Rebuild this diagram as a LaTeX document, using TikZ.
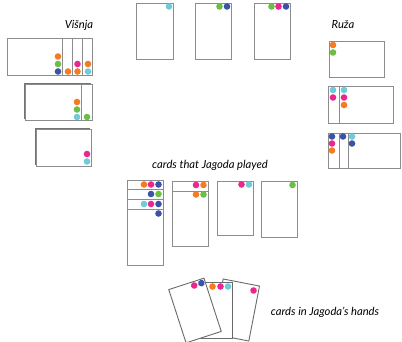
\documentclass[tikz,border=0pt]{standalone}
\usepackage{fontspec}
\setmainfont{Lato}
\definecolor{dorange}{HTML}{F47B20}
\definecolor{dgreen}{HTML}{6CBE45}
\definecolor{dblue}{HTML}{3A53A4}
\definecolor{dpink}{HTML}{EC268F}
\definecolor{dcyan}{HTML}{6DCCDA}
\definecolor{cardline}{HTML}{8C8C8C}
\definecolor{handline}{HTML}{6A6A6A}
\newcommand\mydot[3]{\fill[#1] (#2,#3) circle (3.3);}
\begin{document}
\begin{tikzpicture}[x=1pt,y=-1pt,
  card/.style={draw=cardline,line width=0.9pt,fill=white},
  divline/.style={draw=cardline,line width=0.9pt},
  hcard/.style={draw=handline,line width=0.9pt,fill=white},
  shade/.style={fill=black!85},
  lshade/.style={fill=black!55},
  lbl/.style={font=\itshape\fontsize{11.2}{13}\selectfont,inner sep=0pt}]
\useasboundingbox (0,0) rectangle (402,341);

% ---- labels
\node[lbl] (vis) at (79,25) {Višnja};
\node[lbl] (ruz) at (343,25) {Ruža};
\node[lbl] (pl) at (210,165) {cards that Jagoda played};
\node[lbl] (hd) at (325,312) {cards in Jagoda’s hands};

% ---- top cards
\fill[shade] (137.3,4.3) rectangle (174.3,60.3);
\draw[card] (136,3) rectangle (173,59);
\mydot{dcyan}{169}{6.5}
\fill[shade] (196.3,4.3) rectangle (232.3,60.3);
\draw[card] (195,3) rectangle (231,59);
\mydot{dgreen}{219.5}{6.5}
\mydot{dblue}{227}{6.5}
\fill[shade] (255.3,4.3) rectangle (291.3,60.3);
\draw[card] (254,3) rectangle (290,59);
\mydot{dgreen}{271.5}{6.5}
\mydot{dpink}{278.5}{6.5}
\mydot{dblue}{286}{6.5}

% ---- Visnja
\draw[card] (7,38) rectangle (92,75.5);
\draw[divline] (62,38) -- (62,75.5) (72,38) -- (72,75.5) (82,38) -- (82,75.5);
\mydot{dorange}{58}{56.5}
\mydot{dgreen}{58}{64}
\mydot{dblue}{58}{71.5}
\mydot{dorange}{68}{71.5}
\mydot{dpink}{77.5}{64}
\mydot{dorange}{77.5}{71.5}
\mydot{dorange}{88}{64}
\mydot{dcyan}{88}{71.5}

\fill[lshade] (24.3,83.3) rectangle (91,119);
\draw[card] (25,84) rectangle (92,120);
\draw[divline] (81,84) -- (81,120);
\mydot{dorange}{77}{102}
\mydot{dgreen}{77}{109.5}
\mydot{dcyan}{77}{117}
\mydot{dgreen}{87}{117}

\fill[lshade] (35.3,128.3) rectangle (90,165);
\draw[card] (36,129) rectangle (91,166);
\mydot{dpink}{87}{154}
\mydot{dcyan}{87}{161.5}

% ---- Ruza
\fill[lshade] (329.7,41.7) rectangle (384.7,77.7);
\draw[card] (329,41) rectangle (384,77);
\mydot{dorange}{333}{45}
\mydot{dgreen}{333}{52.5}

\fill[lshade] (328.7,86.7) rectangle (393.7,123.7);
\draw[card] (328,86) rectangle (393,123);
\draw[divline] (339,86) -- (339,123);
\mydot{dcyan}{333}{90}
\mydot{dpink}{333}{97.5}
\mydot{dcyan}{344}{90}
\mydot{dpink}{344}{97.5}
\mydot{dorange}{344}{105}

\fill[lshade] (328.7,133.7) rectangle (400.7,168.7);
\draw[card] (328,133) rectangle (400,168);
\draw[divline] (339,133) -- (339,168) (348,133) -- (348,168);
\mydot{dblue}{332}{136.5}
\mydot{dpink}{332}{143.5}
\mydot{dorange}{332}{150.5}
\mydot{dblue}{343}{136.5}
\mydot{dcyan}{352}{136.5}
\mydot{dblue}{352}{143.5}

% ---- played cards
\draw[card] (127,180) rectangle (163,265);
\draw[divline] (127,189) -- (163,189) (127,199) -- (163,199) (127,209) -- (163,209);
\mydot{dorange}{144}{184.5}
\mydot{dpink}{151}{184.5}
\mydot{dblue}{158.5}{184.5}
\mydot{dblue}{151}{194}
\mydot{dgreen}{158.5}{194}
\mydot{dcyan}{144}{204}
\mydot{dpink}{151}{204}
\mydot{dblue}{158.5}{204}
\mydot{dblue}{158.5}{213.5}

\draw[card] (172,181) rectangle (208,246);
\draw[divline] (172,191) -- (208,191);
\mydot{dpink}{196}{185}
\mydot{dorange}{203.5}{185}
\mydot{dorange}{196}{194.5}
\mydot{dgreen}{203.5}{194.5}

\draw[card] (217,181) rectangle (253,235);
\mydot{dpink}{241.5}{184.5}
\mydot{dcyan}{249}{184.5}

\draw[card] (261,181) rectangle (297,237);
\mydot{dgreen}{292.5}{185}

% ---- cards in hands
\begin{scope}[shift={(236,310)},rotate=-11]
  \draw[hcard] (-18.5,-28) rectangle (18.5,28);
  \mydot{dpink}{13.5}{-22.5}
\end{scope}
\draw[hcard] (195,282.5) rectangle (232,338.5);
\mydot{dorange}{212.5}{286.5}
\mydot{dpink}{220.5}{286.5}
\mydot{dcyan}{228}{286.5}
\begin{scope}[shift={(195,310.5)},rotate=18]
  \draw[hcard] (-18.5,-28) rectangle (18.5,28);
  \mydot{dpink}{7}{-24}
  \mydot{dblue}{14.5}{-24}
\end{scope}
\end{tikzpicture}
\end{document}
